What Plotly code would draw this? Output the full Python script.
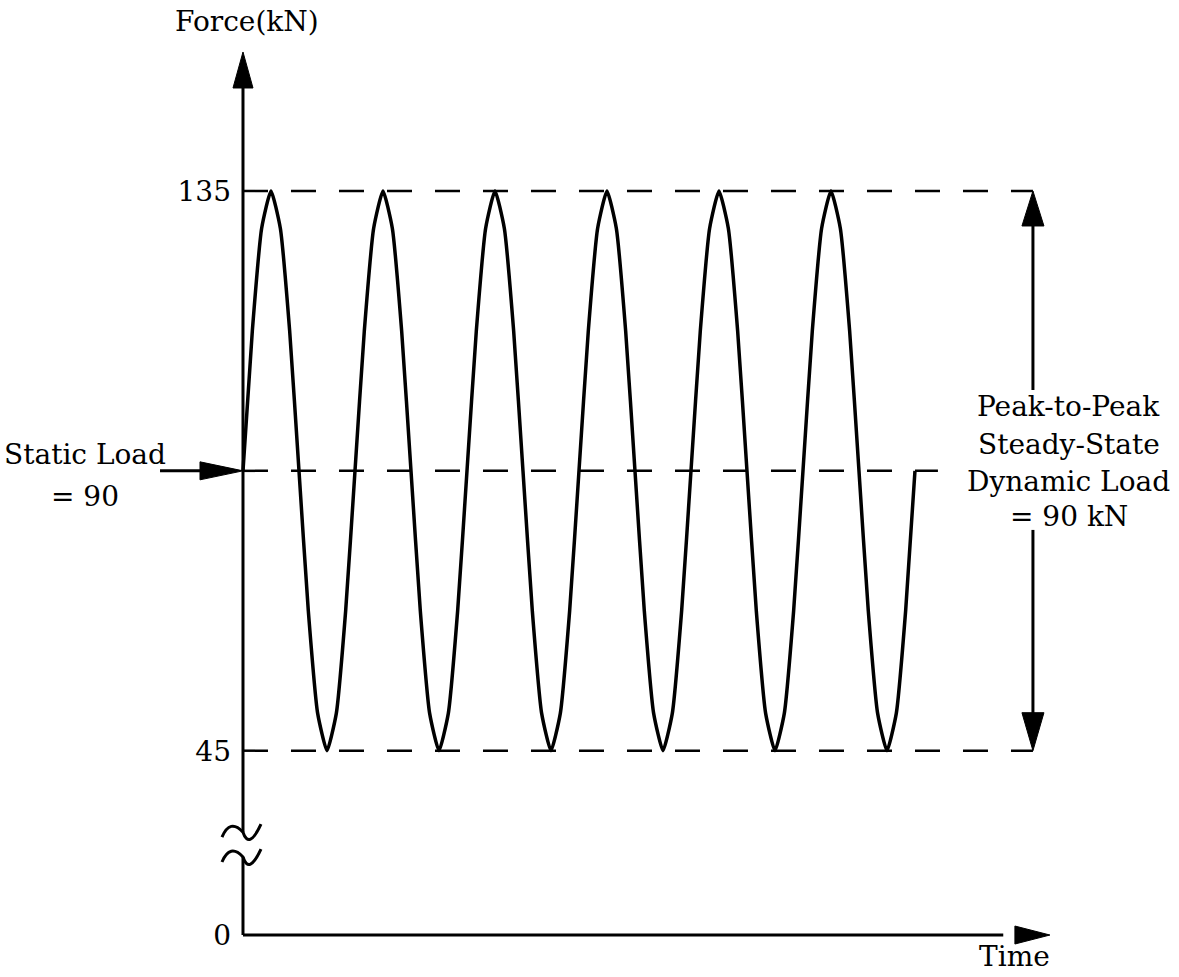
import plotly.graph_objects as go

# ---------------- data ----------------
# time in arbitrary units (one load cycle = 12 units)
time = [0, 1, 2, 3, 4, 5, 6, 7, 8, 9, 10, 11,
        12, 13, 14, 15, 16, 17, 18, 19, 20, 21, 22, 23,
        24, 25, 26, 27, 28, 29, 30, 31, 32, 33, 34, 35,
        36, 37, 38, 39, 40, 41, 42, 43, 44, 45, 46, 47,
        48, 49, 50, 51, 52, 53, 54, 55, 56, 57, 58, 59,
        60, 61, 62, 63, 64, 65, 66, 67, 68, 69, 70, 71,
        72]
force = [90, 112.5, 129, 135, 129, 112.5, 90, 67.5, 51, 45, 51, 67.5,
         90, 112.5, 129, 135, 129, 112.5, 90, 67.5, 51, 45, 51, 67.5,
         90, 112.5, 129, 135, 129, 112.5, 90, 67.5, 51, 45, 51, 67.5,
         90, 112.5, 129, 135, 129, 112.5, 90, 67.5, 51, 45, 51, 67.5,
         90, 112.5, 129, 135, 129, 112.5, 90, 67.5, 51, 45, 51, 67.5,
         90, 112.5, 129, 135, 129, 112.5, 90, 67.5, 51, 45, 51, 67.5,
         90]

static_load = 90
peak_max = 135
peak_min = 45
tick_labels = ["0", "45", "135"]

# axis break: value 0 is drawn below the break
zero_display = 15.36
break_lo, break_hi = 27.9, 31.9

FONT = "DejaVu Serif"
FS = 28

fig = go.Figure()
fig.add_trace(go.Scatter(x=time, y=force, mode="lines",
                         line=dict(color="black", width=3.5, shape="spline", smoothing=0.5),
                         showlegend=False, hoverinfo="skip"))

shapes = []
# dashed reference lines
dash = "25px,23px"
x_right = 84.64
shapes.append(dict(type="line", x0=0, x1=x_right, y0=peak_max, y1=peak_max,
                   line=dict(color="black", width=2.5, dash=dash)))
shapes.append(dict(type="line", x0=0, x1=x_right, y0=peak_min, y1=peak_min,
                   line=dict(color="black", width=2.5, dash=dash)))
shapes.append(dict(type="line", x0=0, x1=74.46, y0=static_load, y1=static_load,
                   line=dict(color="black", width=2.5, dash=dash)))

# y axis (with break) and x axis
y_tip = 157.35
shapes.append(dict(type="line", x0=0, x1=0, y0=break_hi, y1=y_tip - 3,
                   line=dict(color="black", width=3)))
shapes.append(dict(type="line", x0=0, x1=0, y0=zero_display, y1=break_lo,
                   line=dict(color="black", width=3)))
x_tip = 86.46
shapes.append(dict(type="line", x0=0, x1=x_tip - 5, y0=zero_display, y1=zero_display,
                   line=dict(color="black", width=3)))

def head(xa, ya, path):
    return dict(type="path", xref="x", yref="y", xsizemode="pixel", ysizemode="pixel",
                xanchor=xa, yanchor=ya, path=path, fillcolor="black",
                line=dict(color="black", width=1))

shapes.append(head(0, y_tip, "M 0,0 L -10,-36 L 10,-36 Z"))
shapes.append(head(x_tip, zero_display, "M 0,0 L -35,-9 L -35,9 Z"))

# axis-break tildes
def tilde(ya):
    return dict(type="path", xref="x", yref="y", xsizemode="pixel", ysizemode="pixel",
                xanchor=0, yanchor=ya, path="M -21,-5 Q -13,14 0,0 Q 6,-18 18,8",
                line=dict(color="black", width=3))
shapes.append(tilde(break_hi))
shapes.append(tilde(break_lo))

# static load arrow
shapes.append(dict(type="line", x0=-8.89, x1=-3, y0=static_load, y1=static_load,
                   line=dict(color="black", width=3)))
shapes.append(head(0, static_load, "M 0,0 L -43,-9 L -43,9 Z"))

# peak-to-peak double arrow
shapes.append(dict(type="line", x0=x_right, x1=x_right, y0=103.0, y1=peak_max - 3,
                   line=dict(color="black", width=3)))
shapes.append(dict(type="line", x0=x_right, x1=x_right, y0=80.5, y1=peak_min + 3,
                   line=dict(color="black", width=3)))
shapes.append(head(x_right, peak_max, "M 0,0 L -11,-35 L 11,-35 Z"))
shapes.append(head(x_right, peak_min, "M 0,0 L -11,38 L 11,38 Z"))

def txt(x, y, s):
    return dict(x=x, y=y, xref="x", yref="y", text=s, showarrow=False,
                xanchor="center", yanchor="middle",
                font=dict(family=FONT, size=FS, color="black"))

annotations = [
    txt(0.43, 162.2, "Force(kN)"),
    txt(-16.93, 92.55, "Static Load"),
    txt(-16.93, 85.8, "= 90"),
    txt(88.5, 100.27, "Peak-to-Peak"),
    txt(88.5, 94.16, "Steady-State"),
    txt(88.5, 88.21, "Dynamic Load"),
    txt(88.5, 82.58, "= 90 kN"),
    txt(82.71, 11.9, "Time"),
]

fig.update_layout(
    width=1179, height=977,
    margin=dict(l=0, r=0, t=0, b=0),
    paper_bgcolor="white", plot_bgcolor="white",
    font=dict(family=FONT, size=FS, color="black"),
    shapes=shapes, annotations=annotations,
    xaxis=dict(range=[-26.036, 100.29], visible=False, fixedrange=True),
    yaxis=dict(range=[8.61, 165.71], tickvals=[zero_display, peak_min, peak_max],
               ticktext=tick_labels, showgrid=False, zeroline=False, showline=False,
               ticks="", anchor="free", position=243 / 1179, ticklabelstandoff=12,
               tickfont=dict(family=FONT, size=FS, color="black"), fixedrange=True),
)

fig.write_html("out.html")
